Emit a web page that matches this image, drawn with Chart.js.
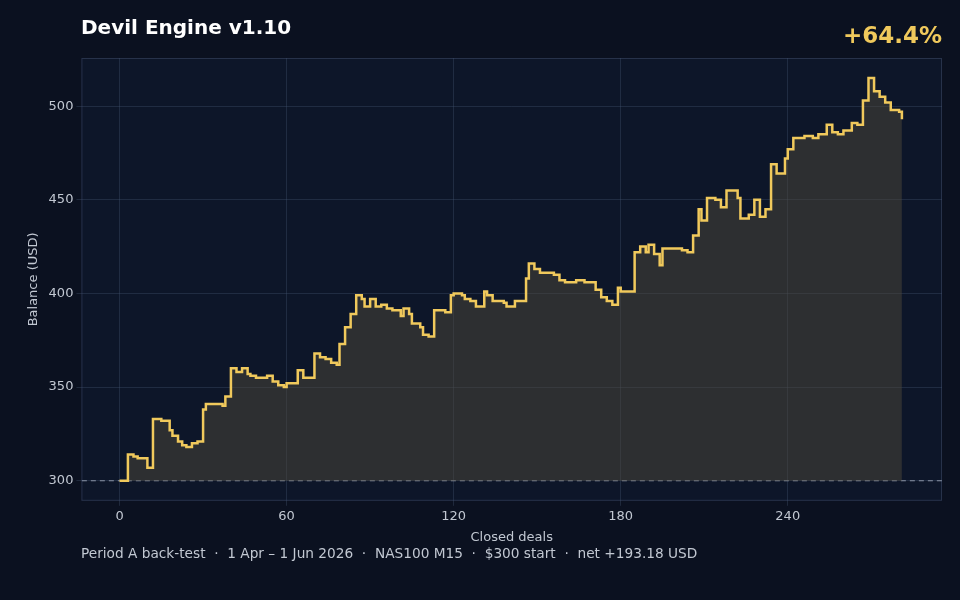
<!DOCTYPE html>
<html>
<head>
<meta charset="utf-8">
<script src="https://cdn.jsdelivr.net/npm/chart.js@4"></script>
<style>
  body { margin: 0; background: #0b1120; width: 960px; height: 600px; overflow: hidden; font-family: "DejaVu Sans", sans-serif; }
  #wrap { position: absolute; left: 0; top: 0; width: 960px; height: 600px; }
  .t { position: absolute; white-space: nowrap; }
</style>
</head>
<body>
<div id="wrap"><canvas id="c" width="960" height="600"></canvas></div>
<div class="t" style="left:81px;top:15px;font-size:20px;font-weight:bold;color:#ffffff;">Devil Engine v1.10</div>
<div class="t" style="right:18px;top:22px;font-size:23px;font-weight:bold;color:#f0c95c;">+64.4%</div>
<div class="t" style="left:81px;top:545px;font-size:13.7px;color:#c2c8d2;">Period A back-test &nbsp;·&nbsp; 1 Apr – 1 Jun 2026 &nbsp;·&nbsp; NAS100 M15 &nbsp;·&nbsp; $300 start &nbsp;·&nbsp; net +193.18 USD</div>
<script>
// deal index where the balance changed, and the balance after it
var deals = [0, 3, 5, 6.5, 10, 12, 15, 18, 19, 21, 22.5, 24, 26, 28, 30, 31, 34.5, 37, 38, 40, 42, 44, 46, 47, 49, 53, 55, 57, 59, 60, 64, 66, 70, 72, 74, 76, 78, 79, 81, 83, 85, 87, 88, 90, 92, 94, 96, 98, 101, 102, 104, 105, 108, 109, 111, 113, 117, 119, 120, 123, 124, 126, 128, 131, 132, 134, 138, 139, 142, 146, 147, 149, 151, 156, 158, 160, 164, 167, 171, 173, 175, 177, 179, 180, 185, 187, 189, 190, 192, 194, 195, 202, 204, 206, 208, 209, 211, 214, 216, 218, 222, 223, 226, 228, 230, 232, 234, 236, 239, 240, 242, 246, 249, 251, 254, 256, 258, 260, 263, 265, 267, 269, 271, 273, 275, 277, 280, 281];
var balance = [300, 314, 313, 312, 307, 333, 332, 327, 324, 321, 319, 318, 320, 321, 338, 341, 341, 340, 345, 360, 358, 360, 357, 356, 355, 356, 353, 351, 350, 352, 359, 355, 368, 366, 365, 363, 362, 373, 382, 389, 399, 397, 393, 397, 393, 394, 392, 391, 388, 392, 389, 384, 382, 378, 377, 391, 390, 399, 400, 399, 397, 396, 393, 401, 399, 396, 395, 393, 396, 408, 416, 413, 411, 410, 407, 406, 407, 406, 402, 398, 396, 394, 403, 401, 422, 425, 422, 426, 421, 415, 424, 423, 422, 431, 445, 439, 451, 450, 446, 455, 451, 440, 442, 450, 441, 445, 469, 464, 472, 477, 483, 484, 483, 485, 490, 486, 485, 487, 491, 490, 503, 515, 508, 505, 502, 498, 497, 493];
var startBalance = 300;
var xTicks = [0, 60, 120, 180, 240];
var yTicks = [300, 350, 400, 450, 500];

var points = deals.map(function (d, i) { return { x: d, y: balance[i] }; });

var plotBg = {
    id: "plotBg",
    beforeDraw: function (chart) {
        var a = chart.chartArea, ctx = chart.ctx;
        ctx.save();
        ctx.fillStyle = "#0d1629";
        ctx.fillRect(a.left, a.top, a.right - a.left, a.bottom - a.top);
        ctx.strokeStyle = "#27324a";
        ctx.lineWidth = 1;
        ctx.strokeRect(a.left + 0.5, a.top + 0.5, a.right - a.left - 1, a.bottom - a.top - 1);
        ctx.restore();
    },
};

new Chart(document.getElementById("c").getContext("2d"), {
    type: "line",
    data: {
        datasets: [
            {
                data: points,
                stepped: "before",
                borderColor: "#f0c95c",
                borderWidth: 2.5,
                pointRadius: 0,
                fill: { value: startBalance },
                backgroundColor: "rgba(78,72,58,0.5)",
            },
            {
                data: [{ x: -20, y: startBalance }, { x: 300, y: startBalance }],
                borderColor: "#8a93a6",
                borderWidth: 1,
                borderDash: [5, 4],
                pointRadius: 0,
                fill: false,
            },
        ],
    },
    plugins: [plotBg],
    options: {
        responsive: false,
        animation: false,
        layout: { padding: { top: 58, right: 18, bottom: 51, left: 22 } },
        plugins: { legend: false, tooltip: false },
        scales: {
            x: {
                type: "linear",
                min: -13.7,
                max: 295.4,
                afterBuildTicks: function (s) { s.ticks = xTicks.map(function (v) { return { value: v }; }); },
                grid: { color: "rgba(70,85,115,0.35)", drawTicks: true, tickLength: 5 },
                border: { display: false },
                ticks: { color: "#c2c8d2", font: { family: "DejaVu Sans", size: 13 } },
                title: { display: true, text: "Closed deals", color: "#c2c8d2", font: { family: "DejaVu Sans", size: 13 }, padding: { top: 2 } },
            },
            y: {
                min: 289.3,
                max: 525.7,
                afterBuildTicks: function (s) { s.ticks = yTicks.map(function (v) { return { value: v }; }); },
                grid: { color: "rgba(70,85,115,0.35)", tickLength: 5 },
                border: { display: false },
                ticks: { color: "#c2c8d2", font: { family: "DejaVu Sans", size: 13 } },
                title: { display: true, text: "Balance (USD)", color: "#c2c8d2", font: { family: "DejaVu Sans", size: 13 } },
            },
        },
    },
});
</script>
</body>
</html>
